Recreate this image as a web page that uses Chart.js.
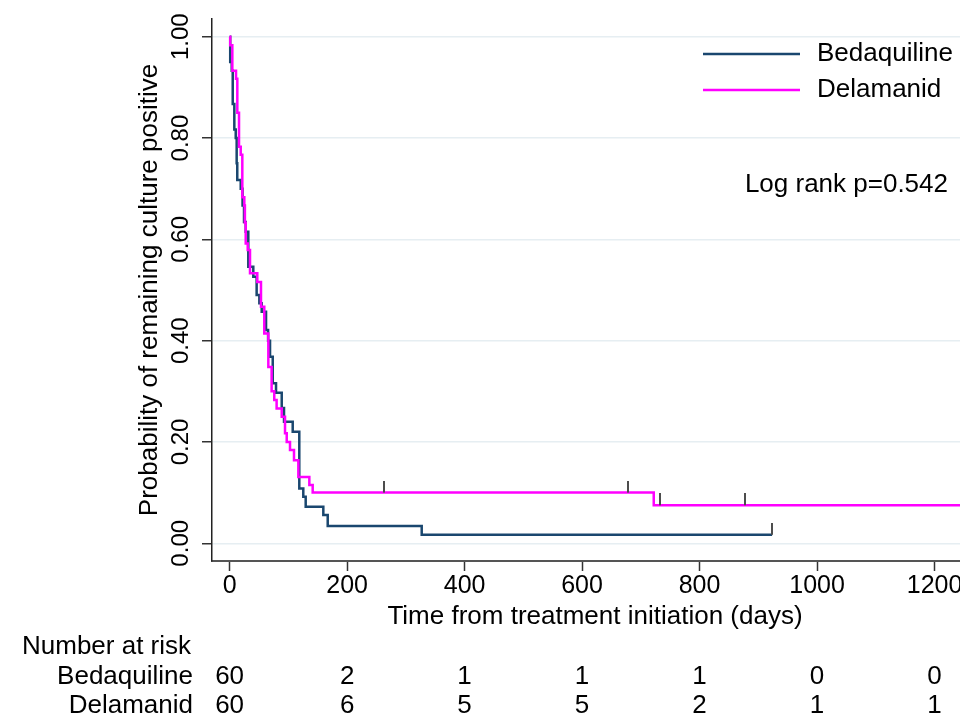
<!DOCTYPE html>
<html lang="en">
<head>
<meta charset="UTF-8">
<title>Time to culture conversion</title>
<script src="https://cdn.jsdelivr.net/npm/chart.js"></script>
<style>
  body { margin: 0; background: #fff; overflow: hidden; }
  /* the original figure is cropped on the right, so the canvas runs a bit past the window */
  #wrap { width: 960px; height: 718px; overflow: hidden; }
</style>
</head>
<body>
<div id="wrap"><canvas id="km" width="978" height="718"></canvas></div>
<script>
// Kaplan-Meier steps: day of event, survival right after it
const groups = ['Bedaquiline', 'Delamanid'];
const bedDays = [0, 1, 3.6, 5.3, 8, 10.4, 12, 13, 18.9, 22, 24.5, 27.4, 31.8, 40.3, 46, 50.6, 54.6, 62, 65.5, 68.8, 73.4, 79, 88.7, 92.6, 107.4, 118.6, 125.4, 129.5, 159.5, 167, 327, 923.5];
const bedSurv = [1, 0.95, 0.933, 0.867, 0.817, 0.8, 0.75, 0.717, 0.7, 0.667, 0.634, 0.615, 0.546, 0.526, 0.49, 0.474, 0.457, 0.421, 0.4, 0.368, 0.316, 0.297, 0.267, 0.24, 0.22, 0.108, 0.092, 0.072, 0.056, 0.034, 0.0167, 0.0167];
const delDays = [0, 1, 4.6, 10.9, 13.1, 16, 18.9, 21.6, 25, 26, 27.4, 30.8, 34.7, 47.1, 53.4, 59, 65.9, 71.5, 76, 80, 88.7, 94.3, 97.2, 102.8, 109.6, 117, 135.7, 141.4, 722, 1300];
const delSurv = [1, 0.983, 0.933, 0.917, 0.85, 0.783, 0.767, 0.683, 0.667, 0.633, 0.592, 0.579, 0.533, 0.516, 0.467, 0.414, 0.348, 0.3, 0.283, 0.266, 0.25, 0.217, 0.2, 0.184, 0.164, 0.131, 0.115, 0.1, 0.075, 0.075];

// censored observations
const bedCensorDays = [923.5];
const bedCensorSurv = [0.0167];
const delCensorDays = [262.8, 677.6, 732.6, 877.3];
const delCensorSurv = [0.1, 0.1, 0.075, 0.075];

const xTicks = [0, 200, 400, 600, 800, 1000, 1200];
const yTicks = [0, 0.2, 0.4, 0.6, 0.8, 1.0];

// number at risk table
const riskTimes = [0, 200, 400, 600, 800, 1000, 1200];
const bedAtRisk = [60, 2, 1, 1, 1, 0, 0];
const delAtRisk = [60, 6, 5, 5, 2, 1, 1];
const pValueText = 'Log rank p=0.542';

const FONT = "'Liberation Sans', Arial, sans-serif";
Chart.defaults.font.family = FONT;
Chart.defaults.color = '#000';

const toPts = (xs, ys) => xs.map((d, i) => ({ x: d, y: ys[i] }));

// little "|" above the curve, like stata's censor ticks
function censorMark() {
    const c = document.createElement('canvas');
    c.width = 2;
    c.height = 24;
    const g = c.getContext('2d');
    g.fillStyle = '#4d4d4d';
    g.fillRect(0, 0, 2, 12);
    return c;
}
const mark = censorMark();

const extras = {
    id: 'extras',
    afterDraw(chart) {
        const { ctx, scales: { x } } = chart;
        ctx.save();
        ctx.fillStyle = '#000';
        ctx.font = '26px ' + FONT;
        ctx.textBaseline = 'middle';

        // legend inside the plot region
        chart.data.datasets.filter(ds => groups.includes(ds.label)).forEach((ds, i) => {
            const y = 54 + i * 36;
            ctx.strokeStyle = ds.borderColor;
            ctx.lineWidth = 2.5;
            ctx.beginPath();
            ctx.moveTo(703, y);
            ctx.lineTo(800, y);
            ctx.stroke();
            ctx.textAlign = 'left';
            ctx.fillText(ds.label, 817, y);
        });

        ctx.textAlign = 'right';
        ctx.fillText(pValueText, 948, 185);

        // risk table
        ctx.textAlign = 'left';
        ctx.fillText('Number at risk', 22, 647);
        [bedAtRisk, delAtRisk].forEach((row, r) => {
            const y = 677 + r * 29;
            ctx.textAlign = 'right';
            ctx.fillText(groups[r], 193, y);
            ctx.textAlign = 'center';
            row.forEach((n, i) => ctx.fillText(String(n), x.getPixelForValue(riskTimes[i]), y));
        });
        ctx.restore();
    }
};

new Chart(document.getElementById('km'), {
    type: 'line',
    data: {
        datasets: [
            { label: 'censor', data: toPts(bedCensorDays, bedCensorSurv), showLine: false,
              pointStyle: mark, pointRadius: 3, order: 0 },
            { label: 'censor', data: toPts(delCensorDays, delCensorSurv), showLine: false,
              pointStyle: mark, pointRadius: 3, order: 0 },
            { label: groups[0], data: toPts(bedDays, bedSurv), borderColor: '#1a476f',
              borderWidth: 2.5, stepped: 'before', pointRadius: 0, fill: false, order: 2 },
            { label: groups[1], data: toPts(delDays, delSurv), borderColor: '#ff00ff',
              borderWidth: 2.5, stepped: 'before', pointRadius: 0, fill: false, order: 1 }
        ]
    },
    options: {
        responsive: false,
        animation: false,
        layout: { autoPadding: false, padding: { top: 19, left: 0, right: 0, bottom: 0 } },
        plugins: { legend: { display: false }, tooltip: { enabled: false } },
        scales: {
            x: {
                type: 'linear',
                min: -30,
                max: 1274,
                afterBuildTicks: s => { s.ticks = xTicks.map(v => ({ value: v })); },
                afterFit: s => { s.height = 157; },
                ticks: { font: { size: 25 }, maxRotation: 0, autoSkip: false, padding: 0,
                         callback: v => String(v) },
                grid: { drawOnChartArea: false, tickLength: 10, tickColor: '#333', tickWidth: 1.5 },
                border: { color: '#555', width: 2 },
                title: { display: true, text: 'Time from treatment initiation (days)',
                         font: { size: 26 }, padding: { top: 0, bottom: 86 } }
            },
            y: {
                type: 'linear',
                min: -0.035,
                max: 1.035,
                afterBuildTicks: s => { s.ticks = yTicks.map(v => ({ value: v })); },
                afterFit: s => { s.width = 212; },
                ticks: { font: { size: 24 }, minRotation: 90, maxRotation: 90, crossAlign: 'center',
                         padding: -3, callback: v => Number(v).toFixed(2) },
                grid: { color: '#e6eef2', lineWidth: 1.5, tickLength: 10, tickColor: '#333', tickWidth: 1.5 },
                border: { color: '#222', width: 1.5 },
                title: { display: true, text: 'Probability of remaining culture positive',
                         font: { size: 26 }, padding: { top: 134, bottom: 0 } }
            }
        }
    },
    plugins: [extras]
});
</script>
</body>
</html>
